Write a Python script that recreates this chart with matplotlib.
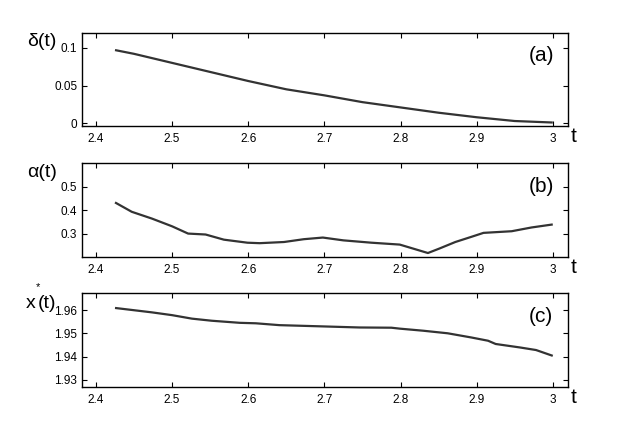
import matplotlib
matplotlib.use("Agg")
import matplotlib.pyplot as plt
from matplotlib import font_manager

names = {f.name for f in font_manager.fontManager.ttflist}
fam = [n for n in ["Liberation Sans Narrow", "Liberation Sans", "DejaVu Sans"] if n in names]
plt.rcParams['font.family'] = fam

# ---- data ----
t_delta = [2.425, 2.45, 2.5, 2.55, 2.6, 2.65, 2.7, 2.75, 2.8, 2.85, 2.9, 2.95, 3.0]
delta = [0.097, 0.092, 0.080, 0.068, 0.056, 0.045, 0.037, 0.028, 0.021, 0.014, 0.008, 0.003, 0.001]

t_alpha = [2.425, 2.447, 2.4735, 2.5, 2.521, 2.544, 2.568, 2.599, 2.615, 2.647, 2.673,
           2.698, 2.725, 2.762, 2.799, 2.836, 2.851, 2.872, 2.893, 2.909, 2.946, 2.972, 3.0]
alpha = [0.433, 0.393, 0.364, 0.331, 0.300, 0.296, 0.274, 0.261, 0.259, 0.264, 0.276,
         0.283, 0.271, 0.261, 0.253, 0.217, 0.236, 0.264, 0.286, 0.303, 0.310, 0.326, 0.339]

t_x = [2.425, 2.4735, 2.5, 2.526, 2.552, 2.589, 2.61, 2.641, 2.694, 2.746, 2.788, 2.799,
       2.830, 2.862, 2.893, 2.915, 2.925, 2.957, 2.978, 3.0]
xstar = [1.9609, 1.9590, 1.9578, 1.9563, 1.9554, 1.9545, 1.9543, 1.9535, 1.9530, 1.9525,
         1.9524, 1.9520, 1.9511, 1.9500, 1.9482, 1.9468, 1.9454, 1.9439, 1.9428, 1.9403]

xticks = [2.4, 2.5, 2.6, 2.7, 2.8, 2.9, 3.0]
xticklabels = ["2.4", "2.5", "2.6", "2.7", "2.8", "2.9", "3"]

W, H = 626, 436
fig = plt.figure(figsize=(W / 100, H / 100), dpi=100)

def px_axes(left, top, right, bottom):
    return fig.add_axes([left / W, 1 - bottom / H, (right - left) / W, (bottom - top) / H])

panels = [
    dict(top=32.7, bottom=126.3, t=t_delta, y=delta, ylim=(-0.004, 0.12),
         yticks=[0, 0.05, 0.1], ylabels=["0", "0.05", "0.1"],
         name="δ(t)", tag="(a)"),
    dict(top=163.3, bottom=257.0, t=t_alpha, y=alpha, ylim=(0.2, 0.6),
         yticks=[0.3, 0.4, 0.5], ylabels=["0.3", "0.4", "0.5"],
         name="α(t)", tag="(b)"),
    dict(top=293.3, bottom=387.0, t=t_x, y=xstar, ylim=(1.9269, 1.9672),
         yticks=[1.93, 1.94, 1.95, 1.96], ylabels=["1.93", "1.94", "1.95", "1.96"],
         name=None, tag="(c)"),
]

for p in panels:
    ax = px_axes(81.5, p["top"], 568, p["bottom"])
    ax.plot(p["t"], p["y"], color="#333333", lw=1.6, solid_capstyle="butt")
    ax.set_xlim(2.381, 3.02)
    ax.set_ylim(*p["ylim"])
    ax.set_xticks(xticks)
    ax.set_xticklabels(xticklabels)
    ax.set_yticks(p["yticks"])
    ax.set_yticklabels(p["ylabels"])
    ax.tick_params(direction="in", top=True, right=True, length=3.5, width=0.8,
                   labelsize=8.5, pad=3)
    ax.tick_params(axis="x", pad=5)
    for s in ax.spines.values():
        s.set_linewidth(1.0)
    fig.text(541 / W, 1 - (p["top"] + 23) / H, p["tag"], fontsize=15,
             ha="center", va="center")
    fig.text(574 / W, 1 - (p["bottom"] + 10) / H, "t", fontsize=15,
             ha="center", va="center")
    if p["name"]:
        fig.text(42 / W, 1 - (p["top"] + 9) / H, p["name"], fontsize=14,
                 ha="center", va="center")

# x*(t) label, pieces placed to leave room for the tick label
fig.text(31 / W, 1 - 303 / H, "x", fontsize=14, ha="center", va="center")
fig.text(38 / W, 1 - 287 / H, "*", fontsize=8, ha="center", va="center")
fig.text(56 / W, 1 - 303 / H, "(t)", fontsize=14, ha="right", va="center")

fig.savefig("out.png", dpi=100)
